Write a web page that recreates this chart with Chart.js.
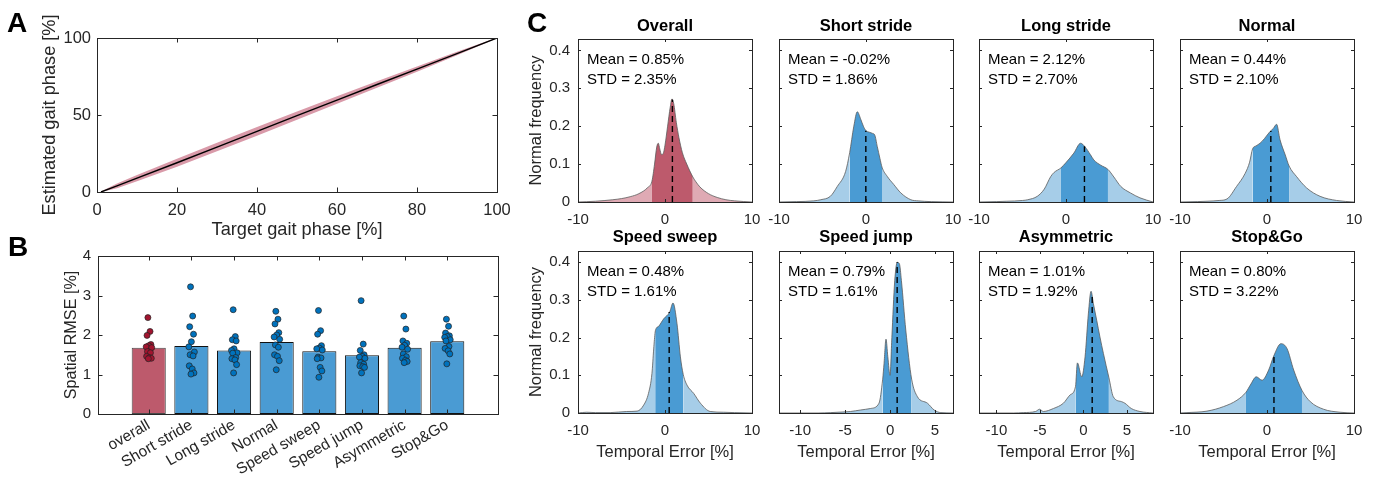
<!DOCTYPE html>
<html><head><meta charset="utf-8">
<script src="https://cdn.jsdelivr.net/npm/chart.js@4.4.1/dist/chart.umd.min.js"></script>
<style>
html,body{margin:0;padding:0;background:#fff;width:1375px;height:481px;overflow:hidden;}
#wrap{position:absolute;left:0;top:0;width:1375px;height:481px;}
.layer{position:absolute;left:0;top:0;width:1375px;height:481px;}
.letter{position:absolute;font:bold 28px "Liberation Sans",Arial,sans-serif;line-height:28px;color:#000;}
</style></head><body>
<div id="wrap"></div>
<div class="letter" style="left:7px;top:9px">A</div>
<div class="letter" style="left:8px;top:233px">B</div>
<div class="letter" style="left:527px;top:9px">C</div>
<script>
// ---------- Panel A data ----------
const targetPhase    = [1, 5, 10, 20, 30, 40, 50, 60, 70, 80, 90, 100];
const estimatedPhase = [0, 4, 9, 19, 29.2, 39.4, 49.6, 59.7, 69.8, 79.8, 89.9, 100];
const bandLower      = [0, 2.5, 6.9, 16.4, 26.4, 36.6, 46.9, 57.3, 67.7, 78.1, 88.8, 99.8];
const bandUpper      = [0.3, 5.5, 11.1, 21.6, 32.0, 42.2, 52.3, 62.1, 71.9, 81.5, 91.0, 100.2];
const aXTicks = [0, 20, 40, 60, 80, 100];
const aYTicks = [0, 50, 100];

// ---------- Panel B data ----------
const bCategories = ['overall', 'Short stride', 'Long stride', 'Normal', 'Speed sweep', 'Speed jump', 'Asymmetric', 'Stop&Go'];
const bBarMeans = [1.68, 1.72, 1.61, 1.82, 1.59, 1.49, 1.68, 1.84];
const rmseOverall = [2.44, 2.09, 1.99, 1.76, 1.73, 1.70, 1.68, 1.58, 1.55, 1.46, 1.43, 1.41, 1.40];
const rmseShort   = [3.22, 2.48, 2.21, 2.02, 1.83, 1.70, 1.57, 1.50, 1.47, 1.22, 1.14, 1.04, 1.01];
const rmseLong    = [2.64, 1.96, 1.88, 1.85, 1.65, 1.61, 1.55, 1.54, 1.43, 1.40, 1.37, 1.25, 1.04];
const rmseNormal  = [2.60, 2.40, 2.28, 2.06, 2.00, 1.95, 1.89, 1.75, 1.69, 1.50, 1.46, 1.35, 1.12];
const rmseSweep   = [2.62, 2.11, 2.02, 1.73, 1.67, 1.65, 1.62, 1.44, 1.42, 1.40, 1.18, 1.09, 0.93];
const rmseJump    = [2.87, 1.77, 1.61, 1.50, 1.46, 1.44, 1.41, 1.30, 1.26, 1.22, 1.20, 1.18, 1.04];
const rmseAsym    = [2.48, 2.15, 1.85, 1.79, 1.74, 1.69, 1.64, 1.52, 1.45, 1.41, 1.36, 1.33, 1.30];
const rmseStop    = [2.40, 2.22, 2.05, 1.98, 1.96, 1.94, 1.88, 1.85, 1.71, 1.66, 1.60, 1.52, 1.27];
const dotJitter   = [-0.02, 0.03, -0.04, 0.05, 0.0, -0.06, 0.07, -0.03, 0.04, -0.05, 0.02, 0.06, -0.01];
const bYTicks = [0, 1, 2, 3, 4];

// ---------- Panel C data ----------
const cTitles = ['Overall', 'Short stride', 'Long stride', 'Normal', 'Speed sweep', 'Speed jump', 'Asymmetric', 'Stop&Go'];
const meanErr = [0.85, -0.02, 2.12, 0.44, 0.48, 0.79, 1.01, 0.80];
const stdErr  = [2.35, 1.86, 2.70, 2.10, 1.61, 1.61, 1.92, 3.22];
const meanHeight = [0.27, 0.188, 0.147, 0.187, 0.268, 0.40, 0.31, 0.152];
const densX0 = [-10,-8,-6,-5,-4,-3,-2,-1.5,-1.2,-0.95,-0.77,-0.6,-0.4,-0.2,0,0.3,0.6,0.8,1.0,1.3,1.6,2.0,2.5,3.2,3.5,4,5,6,7,8,10];
const densY0 = [0,0.002,0.006,0.009,0.014,0.022,0.038,0.055,0.10,0.145,0.155,0.14,0.125,0.128,0.15,0.2,0.25,0.272,0.26,0.21,0.17,0.13,0.1,0.066,0.055,0.04,0.022,0.012,0.006,0.003,0];
const densX1 = [-10,-8,-6,-5.2,-4.1,-3.3,-2.35,-1.88,-1.4,-1.0,-0.6,-0.3,0,0.4,0.75,1.0,1.3,1.6,1.84,2.46,3.2,4.0,5.15,6,7.5,10];
const densY1 = [0,0.001,0.003,0.006,0.015,0.041,0.08,0.13,0.2,0.238,0.218,0.2,0.188,0.184,0.181,0.177,0.146,0.115,0.092,0.067,0.046,0.024,0.006,0.003,0.001,0];
const densX2 = [-10,-8,-6.8,-5,-4.4,-3.3,-2.5,-1.76,-1.37,-0.58,0,0.9,1.68,2.17,2.8,3.2,4.0,4.82,5.5,6.3,7.4,8.5,10];
const densY2 = [0,0.001,0.002,0.004,0.006,0.015,0.034,0.067,0.078,0.09,0.104,0.129,0.155,0.146,0.125,0.111,0.097,0.086,0.066,0.041,0.024,0.011,0];
const densX3 = [-10,-8,-6.9,-5.5,-4.6,-3.5,-2.5,-2.0,-1.66,-1.26,-0.8,-0.3,0.35,0.73,1.1,1.5,2.1,2.54,3.4,4.56,6.1,8,10];
const densY3 = [0,0.001,0.002,0.004,0.008,0.041,0.076,0.105,0.14,0.148,0.155,0.167,0.186,0.194,0.205,0.164,0.124,0.095,0.067,0.037,0.015,0.004,0];
const densX4 = [-10,-9,-8,-6.3,-4.4,-3.2,-2.45,-1.9,-1.5,-1.3,-1.13,-1.0,-0.73,-0.15,0.54,0.92,1.38,1.77,2.09,2.53,3.3,4.07,5.2,6.75,8,10];
const densY4 = [0,0.002,0.001,0.001,0.004,0.005,0.021,0.052,0.105,0.17,0.215,0.225,0.23,0.25,0.268,0.292,0.237,0.149,0.103,0.074,0.052,0.026,0.004,0.002,0.001,0];
const densX5 = [-12.35,-8,-6.6,-5,-4.4,-3.27,-2.16,-1.23,-0.82,-0.67,-0.45,-0.25,0,0.2,0.52,0.8,1.04,1.26,1.75,2.40,3.05,4.16,4.9,5.65,7];
const densY5 = [0,0,0.001,0.003,0.004,0.008,0.012,0.026,0.09,0.131,0.196,0.15,0.1,0.2,0.351,0.4,0.396,0.352,0.22,0.09,0.043,0.026,0.008,0.001,0];
const densX6 = [-12,-8,-6.9,-5.5,-5.04,-4.6,-3.44,-2.3,-1.53,-0.91,-0.69,-0.19,0.19,0.57,0.88,1.15,1.53,1.9,2.3,2.93,3.44,4.4,4.77,5.5,6.5,8];
const densY6 = [0,0,0.001,0.004,0.01,0.004,0.012,0.026,0.048,0.07,0.133,0.096,0.149,0.263,0.323,0.29,0.246,0.202,0.158,0.094,0.043,0.03,0.026,0.012,0.004,0];
const densX7 = [-10,-9.2,-6.9,-5,-3.45,-2.42,-1.92,-1.23,-0.57,0.19,0.77,1.6,2.3,3.07,4.02,4.98,6.5,8.4,10];
const densY7 = [0,0.001,0.005,0.017,0.034,0.055,0.074,0.096,0.087,0.114,0.151,0.184,0.171,0.114,0.06,0.03,0.01,0.002,0];
const cXLimits = [[-10,10],[-10,10],[-10,10],[-10,10],[-10,10],[-12.35,7],[-12,8],[-10,10]];
const cXTicks = [[-10,0,10],[-10,0,10],[-10,0,10],[-10,0,10],[-10,0,10],[-10,-5,0,5],[-10,-5,0,5],[-10,0,10]];
const cYTicks = [0, 0.1, 0.2, 0.3, 0.4];

// ---------- rendering ----------
const FONT = '"Liberation Sans", Arial, Helvetica, sans-serif';
Chart.defaults.font.family = FONT;
Chart.defaults.color = '#262626';

const matlabAxes = {
  id: 'matlabAxes',
  afterDraw(chart, args, opts) {
    if (!opts || !opts.enabled) return;
    const {ctx, chartArea: a, scales} = chart;
    const L = opts.tickLen || 4;
    ctx.save();
    ctx.strokeStyle = '#262626';
    ctx.lineWidth = 1;
    ctx.beginPath();
    scales.x.ticks.forEach(t => {
      const p = Math.round(scales.x.getPixelForValue(t.value)) + 0.5;
      ctx.moveTo(p, a.bottom); ctx.lineTo(p, a.bottom - L);
      ctx.moveTo(p, a.top); ctx.lineTo(p, a.top + L);
    });
    scales.y.ticks.forEach(t => {
      const p = Math.round(scales.y.getPixelForValue(t.value)) + 0.5;
      ctx.moveTo(a.left, p); ctx.lineTo(a.left + L, p);
      ctx.moveTo(a.right, p); ctx.lineTo(a.right - L, p);
    });
    ctx.stroke();
    ctx.strokeRect(Math.round(a.left) + 0.5, Math.round(a.top) + 0.5, Math.round(a.right - a.left), Math.round(a.bottom - a.top));
    ctx.fillStyle = '#000';
    if (opts.title) {
      ctx.font = 'bold 16.5px ' + FONT;
      ctx.textAlign = 'center'; ctx.textBaseline = 'middle';
      ctx.fillText(opts.title, (a.left + a.right) / 2, a.top - opts.titleGap);
    }
    if (opts.lines) {
      ctx.font = '15px ' + FONT;
      ctx.textAlign = 'left'; ctx.textBaseline = 'middle';
      opts.lines.forEach((s, i) => ctx.fillText(s, a.left + 9, a.top + 21 + 20 * i));
    }
    ctx.restore();
  }
};
Chart.register(matlabAxes);

function makeCanvas() {
  const c = document.createElement('canvas');
  c.width = 1375; c.height = 481; c.className = 'layer';
  document.getElementById('wrap').appendChild(c);
  return c;
}
function common(pad, axesOpts) {
  return {
    responsive: false, animation: false, events: [],
    layout: {padding: pad},
    plugins: {legend: {display: false}, tooltip: {enabled: false}, matlabAxes: axesOpts}
  };
}
const noGrid = {display: false, drawTicks: false};

// ---- Panel A ----
(function () {
  const o = common({left: 35, top: 38, right: 1375 - 497, bottom: 481 - 192 - 53}, {enabled: true, tickLen: 4.5});
  o.scales = {
    x: {type: 'linear', min: 0, max: 100, grid: noGrid, border: {display: false},
      afterBuildTicks: s => { s.ticks = aXTicks.map(v => ({value: v})); },
      afterFit: s => { s.height = 53; },
      ticks: {font: {size: 16.5}, padding: 9, maxRotation: 0, minRotation: 0, autoSkip: false, callback: v => String(v)},
      title: {display: true, text: 'Target gait phase [%]', font: {size: 18.2}, padding: {top: 4, bottom: 4}}},
    y: {type: 'linear', min: 0, max: 100, grid: noGrid, border: {display: false},
      afterBuildTicks: s => { s.ticks = aYTicks.map(v => ({value: v})); },
      afterFit: s => { s.width = 62; },
      ticks: {font: {size: 16.5}, padding: 6, autoSkip: false, callback: v => String(v)},
      title: {display: true, text: 'Estimated gait phase [%]', font: {size: 18.2}, padding: {top: 4, bottom: 4}}}
  };
  new Chart(makeCanvas(), {
    type: 'line',
    data: {datasets: [
      {data: targetPhase.map((x, k) => ({x, y: bandLower[k]})), borderColor: 'rgba(0,0,0,0)', borderWidth: 0, pointRadius: 0, fill: false, order: 2},
      {data: targetPhase.map((x, k) => ({x, y: bandUpper[k]})), borderColor: 'rgba(0,0,0,0)', borderWidth: 0, pointRadius: 0, fill: '-1', backgroundColor: '#d99aa9', order: 1},
      {data: targetPhase.map((x, k) => ({x, y: estimatedPhase[k]})), borderColor: '#000', borderWidth: 1.4, pointRadius: 0, fill: false, order: 0}
    ]},
    options: o
  });
})();

// ---- Panel B ----
(function () {
  const groups = [rmseOverall, rmseShort, rmseLong, rmseNormal, rmseSweep, rmseJump, rmseAsym, rmseStop];
  const redDots = rmseOverall.map((v, k) => ({x: 1 + dotJitter[k], y: v}));
  const blueDots = [];
  groups.slice(1).forEach((g, gi) => g.forEach((v, k) => blueDots.push({x: gi + 2 + dotJitter[k], y: v})));
  const o = common({left: 58, top: 256, right: 1375 - 498, bottom: 481 - 414 - 60}, {enabled: true, tickLen: 4.5});
  o.scales = {
    x: {type: 'linear', min: -0.19, max: 9.19, offset: false, grid: {display: false, drawTicks: false, offset: false}, border: {display: false},
      afterBuildTicks: s => { s.ticks = bCategories.map((c, k) => ({value: k + 1})); },
      afterFit: s => { s.height = 60; },
      ticks: {font: {size: 15.5}, padding: 2, maxRotation: 30, minRotation: 30, autoSkip: false, callback: v => bCategories[Math.round(v) - 1]}},
    y: {type: 'linear', min: 0, max: 4, grid: noGrid, border: {display: false},
      afterBuildTicks: s => { s.ticks = bYTicks.map(v => ({value: v})); },
      afterFit: s => { s.width = 40; },
      ticks: {font: {size: 15}, padding: 7, autoSkip: false, callback: v => String(v)},
      title: {display: true, text: 'Spatial RMSE [%]', font: {size: 16.2}, padding: {top: 4, bottom: 4}}}
  };
  new Chart(makeCanvas(), {
    type: 'bar',
    data: {datasets: [
      {type: 'bar', data: bBarMeans.map((v, k) => ({x: k + 1, y: v})),
        backgroundColor: bBarMeans.map((v, k) => k === 0 ? '#bd5a6c' : '#4a9bd3'),
        borderColor: bBarMeans.map((v, k) => k === 0 ? '#4a4a4a' : '#111'),
        borderWidth: 1, borderSkipped: false, barPercentage: 0.8, categoryPercentage: 1, order: 2},
      {type: 'scatter', data: redDots, backgroundColor: '#a2142f', borderColor: '#222', borderWidth: 0.7, pointRadius: 3, order: 1},
      {type: 'scatter', data: blueDots, backgroundColor: '#0072bd', borderColor: '#222', borderWidth: 0.7, pointRadius: 3, order: 0}
    ]},
    options: o
  });
})();

// ---- Panel C ----
const densX = [densX0, densX1, densX2, densX3, densX4, densX5, densX6, densX7];
const densY = [densY0, densY1, densY2, densY3, densY4, densY5, densY6, densY7];
const colLeft = [578, 779, 979, 1180];
const colW = 174;
const rowTop = [39, 251];
const rowBottom = [202, 413];

function densityChart(i) {
  const col = i % 4, row = Math.floor(i / 4);
  const L = colLeft[col], R = L + colW, T = rowTop[row], B = rowBottom[row];
  const first = col === 0;
  const yW = first ? 55 : 10;
  const xH = row === 0 ? 30 : 53;
  const lo = meanErr[i] - stdErr[i], hi = meanErr[i] + stdErr[i];
  const red = i === 0;
  const light = red ? '#dfaab4' : '#a6cde8';
  const dark = red ? '#bd5a6c' : '#4a9bd3';
  const o = common({left: L - yW, top: T, right: 1375 - R, bottom: 481 - B - xH}, {
    enabled: true, tickLen: 3, title: cTitles[i], titleGap: row === 0 ? 13 : 14,
    lines: ['Mean = ' + meanErr[i].toFixed(2) + '%', 'STD = ' + stdErr[i].toFixed(2) + '%']
  });
  o.scales = {
    x: {type: 'linear', min: cXLimits[i][0], max: cXLimits[i][1], grid: noGrid, border: {display: false},
      afterBuildTicks: s => { s.ticks = cXTicks[i].map(v => ({value: v})); },
      afterFit: s => { s.height = xH; },
      ticks: {font: {size: 15}, padding: 9, maxRotation: 0, minRotation: 0, autoSkip: false, callback: v => String(v)},
      title: {display: row === 1, text: 'Temporal Error [%]', font: {size: 16.5}, padding: {top: 4, bottom: 4}}},
    y: {type: 'linear', min: 0, max: 0.43, grid: noGrid, border: {display: false},
      afterBuildTicks: s => { s.ticks = cYTicks.map(v => ({value: v})); },
      afterFit: s => { s.width = yW; },
      ticks: {display: first, font: {size: 15}, padding: 8, autoSkip: false, callback: v => String(Math.round(v * 10) / 10)},
      title: {display: first, text: 'Normal frequency', font: {size: 16.5}, padding: {top: 4, bottom: 4}}}
  };
  new Chart(makeCanvas(), {
    type: 'line',
    data: {datasets: [
      {data: densX[i].map((x, k) => ({x, y: densY[i][k]})), order: 1,
        borderColor: '#5c5c5c', borderWidth: 0.8, pointRadius: 0, fill: 'origin', backgroundColor: light,
        cubicInterpolationMode: 'monotone',
        segment: {backgroundColor: c => {
          const mid = (c.p0.parsed.x + c.p1.parsed.x) / 2;
          return (mid >= lo && mid <= hi) ? dark : light;
        }}},
      {data: [{x: meanErr[i], y: 0}, {x: meanErr[i], y: meanHeight[i]}], order: 0,
        borderColor: '#000', borderWidth: 1.4, borderDash: [6, 4], pointRadius: 0, fill: false}
    ]},
    options: o
  });
}
for (let i = 0; i < 8; i++) densityChart(i);
</script>
</body></html>
